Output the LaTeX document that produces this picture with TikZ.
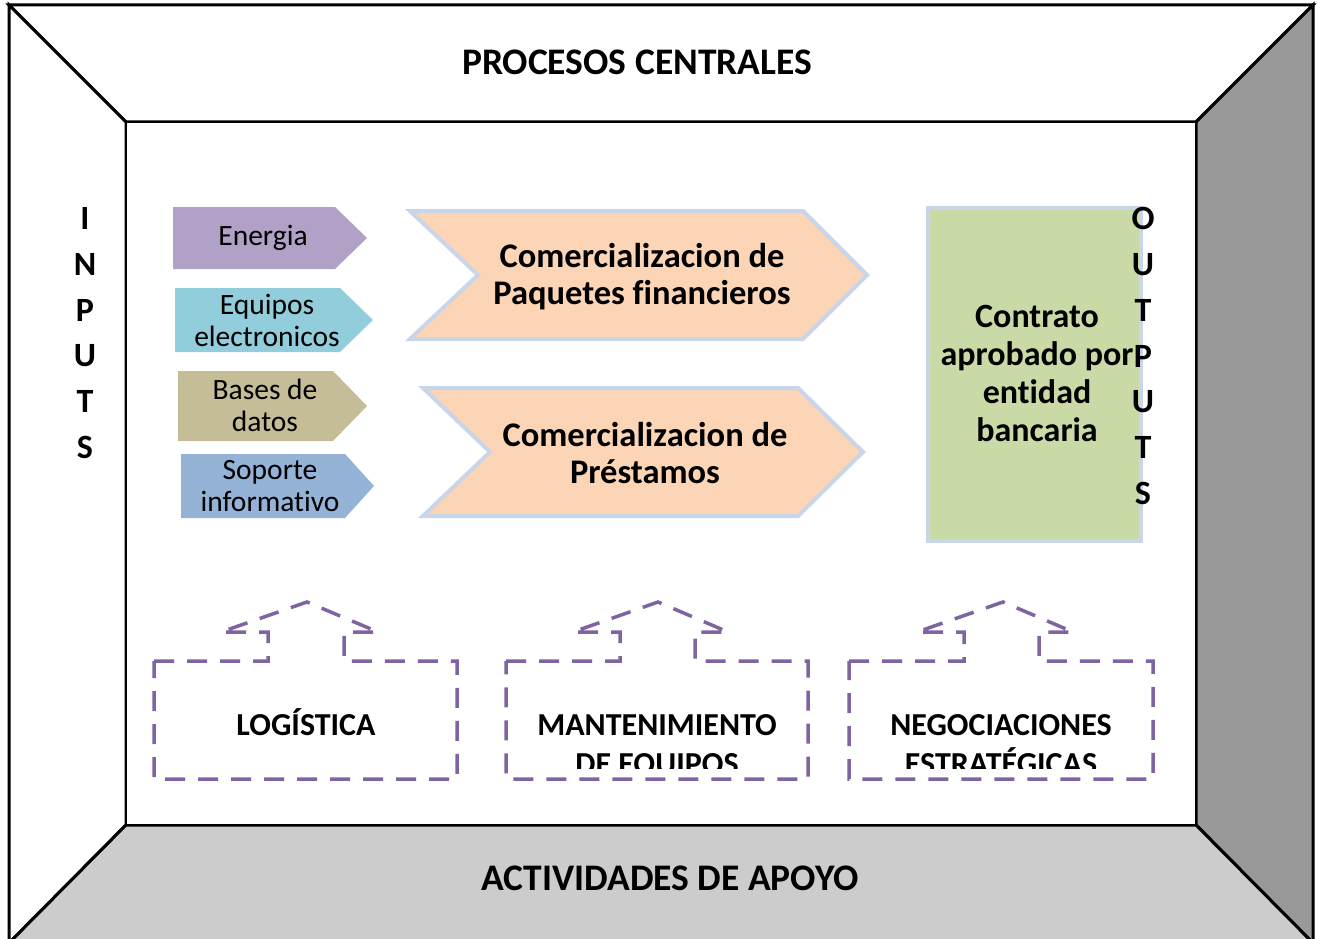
\documentclass[tikz,border=0pt]{standalone}
\usepackage{fontspec}
\setmainfont{Carlito}[Ligatures={NoCommon}]
\definecolor{sidegray}{HTML}{999999}
\definecolor{botgray}{HTML}{CCCCCC}
\definecolor{cEnergia}{HTML}{B2A1C7}
\definecolor{cEquipos}{HTML}{92CDDC}
\definecolor{cBases}{HTML}{C4BD97}
\definecolor{cSoporte}{HTML}{95B3D7}
\definecolor{peach}{HTML}{FBD5B5}
\definecolor{paleblue}{HTML}{C9D5E8}
\definecolor{leaf}{HTML}{C9DAA6}
\definecolor{dashpurple}{HTML}{8064A2}
\begin{document}
\begin{tikzpicture}[x=1pt,y=-1pt,
  panel/.style={draw=black,line width=3pt,line join=miter},
  title/.style={font=\bfseries\fontsize{37.5}{40}\selectfont,inner sep=0pt},
  vlab/.style={font=\bfseries\fontsize{34}{45.8}\selectfont,align=center,inner sep=0pt},
  inlab/.style={font=\fontsize{29.5}{32}\selectfont,align=center,inner sep=0pt},
  chevlab/.style={font=\bfseries\fontsize{34.5}{37}\selectfont,align=center,inner sep=0pt},
  chev/.style={fill=peach,draw=paleblue,line width=4pt,line join=miter},
  outbox/.style={fill=leaf,draw=paleblue,line width=4pt},
  support/.style={draw=dashpurple,line width=3.5pt,dash pattern=on 20pt off 13pt},
  suplab/.style={font=\bfseries\fontsize{32}{37}\selectfont,inner sep=0pt,anchor=base}
]
\useasboundingbox (0,0) rectangle (1317,939);
\fill[white] (0,0) rectangle (1317,939);
% frame panels
\filldraw[panel,fill=white] (9,5) -- (1313,5) -- (1196,122) -- (126,122) -- cycle;
\filldraw[panel,fill=white] (9,5) -- (126,122) -- (126,825) -- (9,943) -- cycle;
\filldraw[panel,fill=sidegray] (1313,5) -- (1313,943) -- (1196,825) -- (1196,122) -- cycle;
\filldraw[panel,fill=botgray] (126,825) -- (1196,825) -- (1313,943) -- (9,943) -- cycle;
\filldraw[draw=black,line width=2.5pt,fill=white] (126,122) rectangle (1196,825);

\node[title] (pc) at (637,62) {PROCESOS CENTRALES};
\node[title] (aa) at (670,878) {ACTIVIDADES DE APOYO};

\node[vlab] (inputs) at (85,333) {I\\N\\P\\U\\T\\S};

% input arrows
\fill[cEnergia] (173,207) -- (335,207) -- (367,238) -- (335,269) -- (173,269) -- cycle;
\node[inlab] (energia) at (263,238) {Energia};
\fill[cEquipos] (175,288) -- (340,288) -- (373,320) -- (340,352) -- (175,352) -- cycle;
\node[inlab] (equipos) at (267,320) {Equipos\\electronicos};
\fill[cBases] (178,371) -- (333,371) -- (367,406) -- (333,441) -- (178,441) -- cycle;
\node[inlab] (bases) at (265,405) {Bases de\\datos};
\fill[cSoporte] (181,454) -- (345,454) -- (374,486) -- (345,518) -- (181,518) -- cycle;
\node[inlab] (soporte) at (270,486) {Soporte\\informativo};

% process chevrons
\filldraw[chev] (410,211) -- (803,211) -- (867,275) -- (803,339) -- (410,339) -- (478,275) -- cycle;
\node[chevlab] (paq) at (642,276.5) {Comercializacion de\\Paquetes financieros};
\filldraw[chev] (423,388) -- (798,388) -- (863,452) -- (798,516) -- (423,516) -- (490,452) -- cycle;
\node[chevlab] (pres) at (645,453) {Comercializacion de\\Préstamos};

% output
\filldraw[outbox] (928,208) rectangle (1141,541);
\node[chevlab,font=\bfseries\fontsize{34}{38}\selectfont] (contrato) at (1037,373) {Contrato\\aprobado por\\entidad\\bancaria};
\node[vlab] (outputs) at (1143,356) {O\\U\\T\\P\\U\\T\\S};

% support activities
\draw[support] (154,661) -- (268,661) -- (268,632) -- (221,632) -- (307,602) -- (378,632) -- (344,632) -- (344,661) -- (457,661) -- (457,779) -- (154,779) -- cycle;
\draw[support] (506,661) -- (620,661) -- (620,632) -- (573,632) -- (658,602) -- (728,632) -- (695,632) -- (695,661) -- (808,661) -- (808,779) -- (506,779) -- cycle;
\draw[support] (849,661) -- (964,661) -- (964,632) -- (917,632) -- (1003,602) -- (1073,632) -- (1039,632) -- (1039,661) -- (1153,661) -- (1153,779) -- (849,779) -- cycle;
\begin{scope}
\clip (154,661) rectangle (1153,768);
\node[suplab] (log) at (306,735) {LOGÍSTICA};
\node[suplab] (mant1) at (657,735) {MANTENIMIENTO};
\node[suplab] (mant2) at (657,774) {DE EQUIPOS};
\node[suplab] (neg1) at (1001,735) {NEGOCIACIONES};
\node[suplab] (neg2) at (1001,774) {ESTRATÉGICAS};
\end{scope}
\end{tikzpicture}
\end{document}
